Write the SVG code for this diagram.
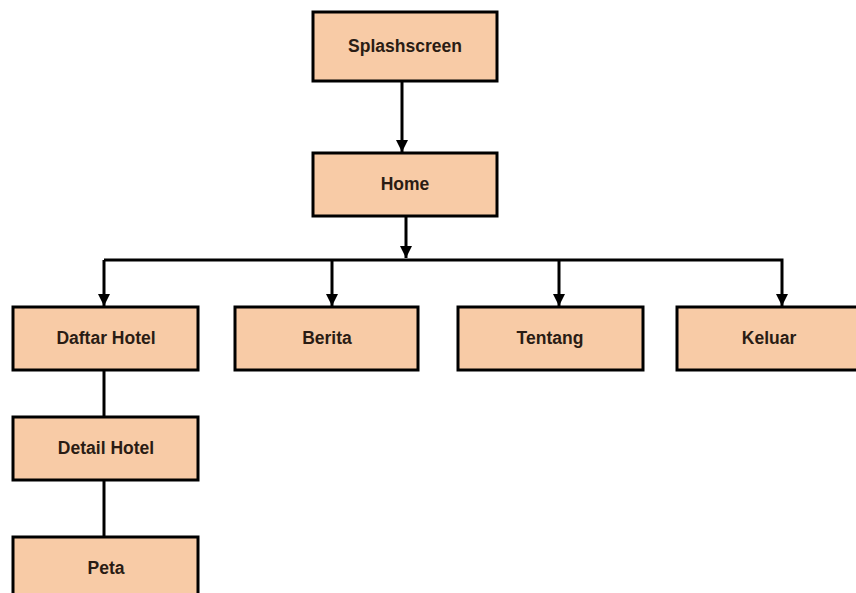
<svg xmlns="http://www.w3.org/2000/svg" width="856" height="593" viewBox="0 0 856 593">
<style>
.box{fill:#F8CBA6;stroke:#000;stroke-width:3}
.lbl{font-family:"Liberation Sans",Arial,sans-serif;font-weight:bold;font-size:17.5px;fill:#2a1c14;text-anchor:middle;dominant-baseline:central}
.ln{stroke:#000;stroke-width:3;fill:none}
</style>
<defs>
<marker id="ah" viewBox="0 0 10 10" refX="10" refY="5" markerWidth="4.6" markerHeight="4" orient="auto" markerUnits="strokeWidth">
<path d="M0,0 L10,5 L0,10 Z" fill="#000"/>
</marker>
</defs>
<g id="connectors">
<line class="ln" x1="402" y1="81" x2="402" y2="152" marker-end="url(#ah)"/>
<line class="ln" x1="406" y1="216" x2="406" y2="258" marker-end="url(#ah)"/>
<polyline class="ln" points="104,260 782,260 782,306" marker-end="url(#ah)"/>
<line class="ln" x1="104" y1="260" x2="104" y2="306" marker-end="url(#ah)"/>
<line class="ln" x1="332" y1="260" x2="332" y2="306" marker-end="url(#ah)"/>
<line class="ln" x1="559" y1="260" x2="559" y2="306" marker-end="url(#ah)"/>
<line class="ln" x1="104" y1="370" x2="104" y2="417"/>
<line class="ln" x1="104" y1="480" x2="104" y2="537"/>
</g>
<g id="splashscreen"><rect class="box" x="313" y="12" width="184" height="69"/><text class="lbl" x="405" y="46">Splashscreen</text></g>
<g id="home"><rect class="box" x="313" y="153" width="184" height="63"/><text class="lbl" x="405" y="184">Home</text></g>
<g id="daftar-hotel"><rect class="box" x="13" y="307" width="185" height="63"/><text class="lbl" x="106" y="338">Daftar Hotel</text></g>
<g id="berita"><rect class="box" x="235" y="307" width="183" height="63"/><text class="lbl" x="327" y="338">Berita</text></g>
<g id="tentang"><rect class="box" x="458" y="307" width="185" height="63"/><text class="lbl" x="550" y="338">Tentang</text></g>
<g id="keluar"><rect class="box" x="677" y="307" width="185" height="63"/><text class="lbl" x="769" y="338">Keluar</text></g>
<g id="detail-hotel"><rect class="box" x="13" y="417" width="185" height="63"/><text class="lbl" x="106" y="448">Detail Hotel</text></g>
<g id="peta"><rect class="box" x="13" y="537" width="185" height="70"/><text class="lbl" x="106" y="568">Peta</text></g>
</svg>
